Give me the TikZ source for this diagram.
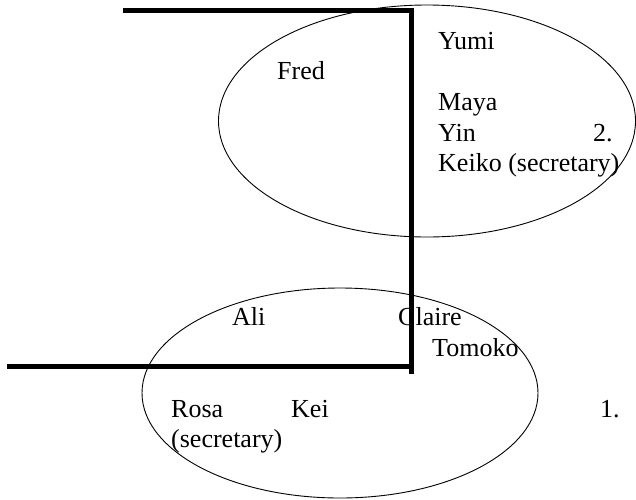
\documentclass[tikz,border=0pt]{standalone}
\usepackage{fontspec}
\setmainfont{Liberation Serif}
\usetikzlibrary{shapes.geometric}
\begin{document}
\begin{tikzpicture}[x=1pt,y=-1pt,
  person/.style={anchor=base west,inner sep=0pt,font=\fontsize{26}{30}\selectfont},
  groupring/.style={draw,ellipse,inner sep=0pt,line width=0.9pt},
  wall/.style={line width=5pt}]
\useasboundingbox (0,0) rectangle (636,499);
% groups
\node[groupring,minimum width=417pt,minimum height=232pt] (g2) at (427,121) {};
\node[groupring,minimum width=396pt,minimum height=210pt] (g1) at (340,393) {};
% walls
\coordinate (tl) at (123,10);
\coordinate (tr) at (411,10);
\coordinate (vt) at (411,7.5);
\coordinate (vb) at (411,374);
\coordinate (bl) at (7,366);
\coordinate (br) at (411,366);
\draw[wall] (tl) -- (tr);
\draw[wall] (vt) -- (vb);
\draw[wall] (bl) -- (br);
% names, group 2
\node[person] (yumi) at (438,49) {Yumi};
\node[person] (fred) at (277,79) {Fred};
\node[person] (maya) at (438,110) {Maya};
\node[person] (yin) at (438,141) {Yin};
\node[person] (n2) at (593,141) {2.};
\node[person] (keiko) at (438,171) {Keiko (secretary)};
% names, group 1
\node[person] (ali) at (232,325) {Ali};
\node[person] (claire) at (398,325) {Claire};
\node[person] (tomoko) at (432,356) {Tomoko};
\node[person] (rosa) at (171,417) {Rosa};
\node[person] (kei) at (291,417) {Kei};
\node[person] (n1) at (600,417) {1.};
\node[person] (sec) at (171,447) {(secretary)};
\end{tikzpicture}
\end{document}
